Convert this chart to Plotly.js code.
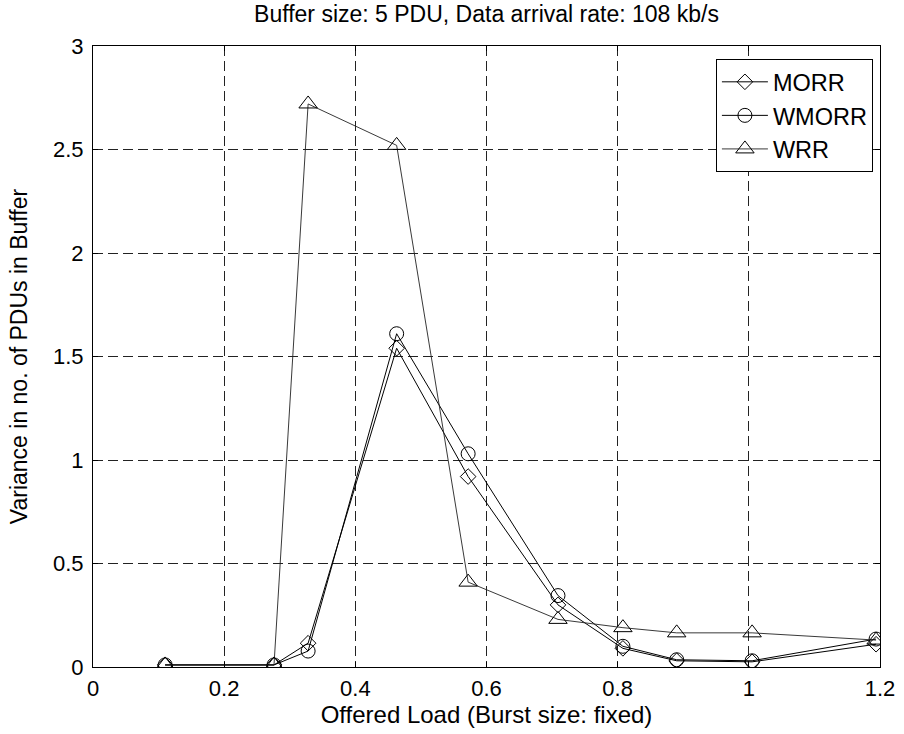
<!DOCTYPE html>
<html><head><meta charset="utf-8">
<script src="https://cdn.plot.ly/plotly-3.0.1.min.js"></script>
<style>html,body{margin:0;padding:0;background:#fff}</style>
</head><body><div id="chart" style="width:904px;height:734px"></div>
<script>
const offeredLoad = [0.11, 0.276, 0.328, 0.463, 0.572, 0.709, 0.808, 0.89, 1.005, 1.194];
const morr  = [0.01, 0.01, 0.115, 1.54, 0.92, 0.30, 0.09, 0.03, 0.025, 0.11];
const wmorr = [0.01, 0.01, 0.077, 1.61, 1.03, 0.345, 0.10, 0.035, 0.03, 0.135];
const wrr   = [0.01, 0.01, 2.72, 2.52, 0.41, 0.23, 0.19, 0.165, 0.165, 0.13];
const xTicks = [0, 0.2, 0.4, 0.6, 0.8, 1, 1.2];
const xTickLabels = ['0', '0.2', '0.4', '0.6', '0.8', '1', '1.2'];
const yTicks = [0, 0.5, 1, 1.5, 2, 2.5, 3];
const yTickLabels = ['0', '0.5', '1', '1.5', '2', '2.5', '3'];

const font = {family: 'Liberation Sans, Arial, sans-serif', color: '#000'};
const traces = [
  {x: offeredLoad, y: morr, name: 'MORR', legendgroup: 'a', mode: 'lines+markers', line: {color: '#000', width: 1},
   marker: {symbol: 'diamond-open', size: 12, color: '#000', line: {width: 1, color: '#000'}}},
  {x: offeredLoad, y: wmorr, name: 'WMORR', legendgroup: 'b', mode: 'lines+markers', line: {color: '#000', width: 1},
   marker: {symbol: 'circle-open', size: 14, color: '#000', line: {width: 1, color: '#000'}}},
  {x: offeredLoad, y: wrr, name: 'WRR', legendgroup: 'c', mode: 'lines+markers', line: {color: '#222', width: 0.9},
   marker: {symbol: 'triangle-up-open', size: 16, color: '#000', line: {width: 1, color: '#000'}}}
];
const axisCommon = {
  showline: true, linecolor: '#000', linewidth: 1, mirror: 'ticks',
  ticks: 'inside', ticklen: 5, tickcolor: '#000',
  showgrid: true, gridcolor: '#222', griddash: '10px,5px', gridwidth: 1,
  zeroline: false, tickfont: Object.assign({size: 22}, font)
};
const layout = {
  width: 904, height: 734,
  margin: {l: 93, r: 24, t: 46, b: 67},
  paper_bgcolor: '#fff', plot_bgcolor: '#fff',
  title: {text: 'Buffer size: 5 PDU, Data arrival rate: 108 kb/s', font: Object.assign({size: 23}, font),
          xref: 'paper', x: 0.5, xanchor: 'center', y: 0.981, yanchor: 'middle'},
  xaxis: Object.assign({}, axisCommon, {range: [0, 1.2], tickvals: xTicks, ticktext: xTickLabels,
          ticklabelstandoff: 2,
          title: {text: 'Offered Load (Burst size: fixed)', font: Object.assign({size: 24}, font), standoff: 0}}),
  yaxis: Object.assign({}, axisCommon, {range: [0, 3], tickvals: yTicks, ticktext: yTickLabels,
          ticklabelstandoff: 4,
          title: {text: 'Variance in no. of PDUs in Buffer', font: Object.assign({size: 23}, font), standoff: 18}}),
  showlegend: true,
  legend: {x: 0.991, y: 0.979, xanchor: 'right', yanchor: 'top', bgcolor: '#fff',
           bordercolor: '#000', borderwidth: 1, font: Object.assign({size: 23.5}, font),
           tracegroupgap: 0, itemwidth: 46}
};
Plotly.newPlot('chart', traces, layout, {displayModeBar: false});
</script></body></html>
